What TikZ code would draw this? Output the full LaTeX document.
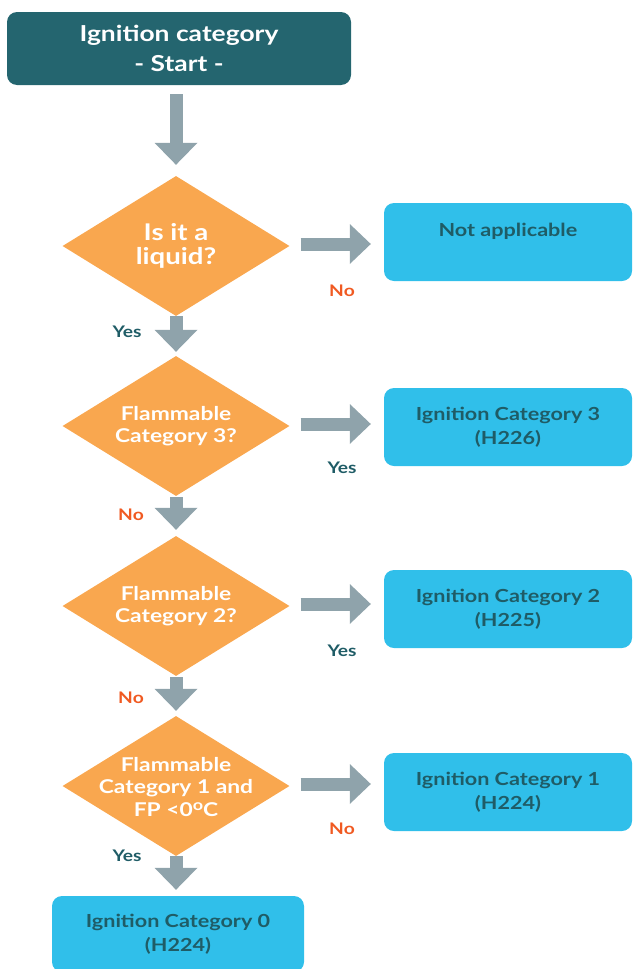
\documentclass[tikz,border=0pt]{standalone}
\usepackage{fontspec}
\setmainfont{Lato}[FakeStretch=1.2]
\usetikzlibrary{shapes.geometric,arrows.meta}
\definecolor{startteal}{HTML}{24656F}
\definecolor{decorange}{HTML}{F9A74F}
\definecolor{resblue}{HTML}{30BFEA}
\definecolor{arrowgrey}{HTML}{8FA3AB}
\definecolor{boxtext}{HTML}{1F5C66}
\definecolor{noorange}{HTML}{F05A22}
\newcommand{\degsign}{\raisebox{5.5pt}{\fontsize{15}{15}\selectfont o}}
\tikzset{
  startbox/.style={rectangle, rounded corners=10pt, fill=startteal, text=white,
    minimum width=344pt, minimum height=73pt, align=center,
    font=\bfseries\fontsize{22}{30}\selectfont},
  decision/.style={diamond, fill=decorange, inner sep=0pt,
    minimum width=227pt, minimum height=140pt},
  dectext/.style={text=white, align=center, inner sep=0pt},
  resultbox/.style={rectangle, rounded corners=10pt, fill=resblue, text=boxtext,
    minimum width=248pt, minimum height=78pt, align=center,
    font=\bfseries\fontsize{18}{24}\selectfont},
  flowarrow/.style={draw=arrowgrey, line width=13pt,
    -{Triangle[width=43pt,length=22pt,line width=0pt,fill=arrowgrey]}},
  sidearrow/.style={draw=arrowgrey, line width=13pt,
    -{Triangle[width=40pt,length=21pt,line width=0pt,fill=arrowgrey]}},
  yeslabel/.style={text=boxtext, font=\bfseries\fontsize{16}{18}\selectfont},
  nolabel/.style={text=noorange, font=\bfseries\fontsize{16}{18}\selectfont}
}
\begin{document}
\begin{tikzpicture}[x=1pt,y=-1pt]
\useasboundingbox (0,0) rectangle (632,969);
\clip (0,0) rectangle (632,969);

% start of the chart
\node[startbox] (start) at (179,48.5) {Ignition category\\- Start -};

% decisions
\node[decision, label={[dectext, font=\bfseries\fontsize{23}{24}\selectfont]center:{Is it a\\liquid?}}] (d1) at (176,246) {};
\node[decision, label={[dectext, font=\bfseries\fontsize{19}{22}\selectfont]center:{Flammable\\Category 3?}}] (d2) at (176,426) {};
\node[decision, label={[dectext, font=\bfseries\fontsize{19}{22}\selectfont]center:{Flammable\\Category 2?}}] (d3) at (176,606) {};
\node[decision, label={[dectext, font=\bfseries\fontsize{19}{22.5}\selectfont, yshift=-1pt]center:{Flammable\\Category 1 and\\FP <0\degsign C}}] (d4) at (176,786) {};

% outcomes
\node[resultbox] (b1) at (508,242) {Not applicable\\\mbox{}};
\node[resultbox] (b2) at (508,427) {Ignition Category 3\\(H226)};
\node[resultbox] (b3) at (508,609) {Ignition Category 2\\(H225)};
\node[resultbox] (b4) at (508,792) {Ignition Category 1\\(H224)};
\node[resultbox, minimum width=252pt, minimum height=76pt] (b5) at (178,934) {Ignition Category 0\\(H224)};

% downward flow
\draw[flowarrow, shorten <=9pt, shorten >=11pt] (d1.north |- start.south) -- (d1.north);
\draw[flowarrow, shorten >=4pt] (d1.south) -- (d2.north);
\draw[flowarrow, shorten <=1pt, shorten >=6pt] (d2.south) -- (d3.north);
\draw[flowarrow, shorten <=1pt, shorten >=5pt] (d3.south) -- (d4.north);
\draw[flowarrow, shorten >=6pt] (d4.south) -- (d4.south |- b5.north);

% sideways flow
\draw[sidearrow, shorten <=11pt, shorten >=13pt] ([yshift=2pt]d1.east) -- ([yshift=2pt]d1.east -| b1.west);
\draw[sidearrow, shorten <=11pt, shorten >=13pt] ([yshift=2pt]d2.east) -- ([yshift=2pt]d2.east -| b2.west);
\draw[sidearrow, shorten <=11pt, shorten >=13pt] ([yshift=2pt]d3.east) -- ([yshift=2pt]d3.east -| b3.west);
\draw[sidearrow, shorten <=11pt, shorten >=13pt] ([yshift=2pt]d4.east) -- ([yshift=2pt]d4.east -| b4.west);

% branch labels
\node[nolabel]  (n1) at (342,291) {No};
\node[yeslabel] (y1) at (127,332) {Yes};
\node[yeslabel] (y2) at (342,468) {Yes};
\node[nolabel]  (n2) at (131,515) {No};
\node[yeslabel] (y3) at (342,651) {Yes};
\node[nolabel]  (n3) at (131,698) {No};
\node[nolabel]  (n4) at (342,829) {No};
\node[yeslabel] (y4) at (127,856) {Yes};
\end{tikzpicture}
\end{document}
